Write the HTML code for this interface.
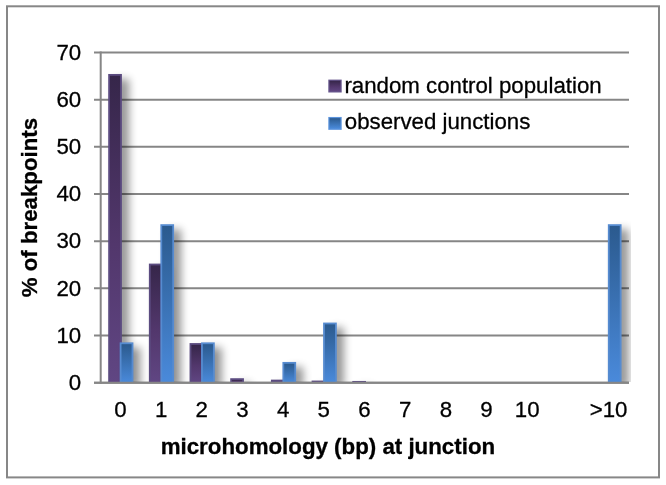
<!DOCTYPE html>
<html><head><meta charset="utf-8"><style>
html,body{margin:0;padding:0;background:#fff;}
body{width:666px;height:485px;overflow:hidden;}
svg{display:block;will-change:transform;}
text{font-family:"Liberation Sans",sans-serif;fill:#000;stroke:#000;stroke-width:0.3px;}
</style></head><body>
<svg width="666" height="485" viewBox="0 0 666 485">
<defs>
<linearGradient id="gp" x1="0" y1="0" x2="0" y2="1">
<stop offset="0" stop-color="#36264a"/><stop offset="0.55" stop-color="#52376c"/><stop offset="1" stop-color="#604683"/>
</linearGradient>
<linearGradient id="gb" x1="0" y1="0" x2="0" y2="1">
<stop offset="0" stop-color="#2b5a8e"/><stop offset="1" stop-color="#4a8adb"/>
</linearGradient>
<filter id="sh" x="-50%" y="-50%" width="250%" height="200%">
<feGaussianBlur in="SourceAlpha" stdDeviation="4"/>
<feOffset dx="7" dy="5" result="b"/>
<feComponentTransfer><feFuncA type="linear" slope="0.42"/></feComponentTransfer>
</filter>
<clipPath id="pc"><rect x="101" y="40" width="530" height="342"/></clipPath>
</defs>
<rect x="0" y="0" width="666" height="485" fill="#fff"/>
<rect x="7" y="6.3" width="652" height="471.1" fill="none" stroke="#878787" stroke-width="2"/>

<line x1="94" y1="382.70" x2="629" y2="382.70" stroke="#868686" stroke-width="2"/>
<text x="81.2" y="390.00" font-size="22.25" text-anchor="end">0</text>
<line x1="94" y1="335.53" x2="629" y2="335.53" stroke="#868686" stroke-width="2"/>
<text x="81.2" y="342.83" font-size="22.25" text-anchor="end">10</text>
<line x1="94" y1="288.36" x2="629" y2="288.36" stroke="#868686" stroke-width="2"/>
<text x="81.2" y="295.66" font-size="22.25" text-anchor="end">20</text>
<line x1="94" y1="241.19" x2="629" y2="241.19" stroke="#868686" stroke-width="2"/>
<text x="81.2" y="248.49" font-size="22.25" text-anchor="end">30</text>
<line x1="94" y1="194.02" x2="629" y2="194.02" stroke="#868686" stroke-width="2"/>
<text x="81.2" y="201.32" font-size="22.25" text-anchor="end">40</text>
<line x1="94" y1="146.85" x2="629" y2="146.85" stroke="#868686" stroke-width="2"/>
<text x="81.2" y="154.15" font-size="22.25" text-anchor="end">50</text>
<line x1="94" y1="99.68" x2="629" y2="99.68" stroke="#868686" stroke-width="2"/>
<text x="81.2" y="106.98" font-size="22.25" text-anchor="end">60</text>
<line x1="94" y1="52.51" x2="629" y2="52.51" stroke="#868686" stroke-width="2"/>
<text x="81.2" y="59.81" font-size="22.25" text-anchor="end">70</text>
<line x1="100.7" y1="51.5" x2="100.7" y2="383.70" stroke="#868686" stroke-width="2"/>
<g clip-path="url(#pc)"><g filter="url(#sh)"><rect x="108.20" y="73.98" width="13.7" height="308.72"/><rect x="148.88" y="263.60" width="13.7" height="119.10"/><rect x="189.56" y="343.08" width="13.7" height="39.62"/><rect x="230.24" y="378.23" width="13.7" height="4.47"/><rect x="270.92" y="379.64" width="13.7" height="3.06"/><rect x="311.60" y="380.58" width="13.7" height="2.12"/><rect x="352.28" y="380.96" width="13.7" height="1.74"/></g></g>
<rect x="108.20" y="73.98" width="13.7" height="308.72" fill="#5b4b80"/><rect x="110.00" y="75.78" width="10.10" height="306.92" fill="url(#gp)"/><rect x="148.88" y="263.60" width="13.7" height="119.10" fill="#5b4b80"/><rect x="150.68" y="265.40" width="10.10" height="117.30" fill="url(#gp)"/><rect x="189.56" y="343.08" width="13.7" height="39.62" fill="#5b4b80"/><rect x="191.36" y="344.88" width="10.10" height="37.82" fill="url(#gp)"/><rect x="230.24" y="378.23" width="13.7" height="4.47" fill="#5b4b80"/><rect x="232.04" y="380.03" width="10.10" height="2.67" fill="url(#gp)"/><rect x="270.92" y="379.64" width="13.7" height="3.06" fill="#5b4b80"/><rect x="311.60" y="380.58" width="13.7" height="2.12" fill="#5b4b80"/><rect x="352.28" y="380.96" width="13.7" height="1.74" fill="#5b4b80"/>
<g clip-path="url(#pc)"><g filter="url(#sh)"><rect x="119.70" y="342.38" width="13.7" height="40.32"/><rect x="160.38" y="224.22" width="13.7" height="158.48"/><rect x="201.06" y="342.38" width="13.7" height="40.32"/><rect x="282.42" y="361.95" width="13.7" height="20.75"/><rect x="323.10" y="322.57" width="13.7" height="60.13"/><rect x="607.86" y="224.22" width="13.7" height="158.48"/></g></g>
<rect x="119.70" y="342.38" width="13.7" height="40.32" fill="#568bd0"/><rect x="121.50" y="344.18" width="10.10" height="38.52" fill="url(#gb)"/><rect x="160.38" y="224.22" width="13.7" height="158.48" fill="#568bd0"/><rect x="162.18" y="226.02" width="10.10" height="156.68" fill="url(#gb)"/><rect x="201.06" y="342.38" width="13.7" height="40.32" fill="#568bd0"/><rect x="202.86" y="344.18" width="10.10" height="38.52" fill="url(#gb)"/><rect x="282.42" y="361.95" width="13.7" height="20.75" fill="#568bd0"/><rect x="284.22" y="363.75" width="10.10" height="18.95" fill="url(#gb)"/><rect x="323.10" y="322.57" width="13.7" height="60.13" fill="#568bd0"/><rect x="324.90" y="324.37" width="10.10" height="58.33" fill="url(#gb)"/><rect x="607.86" y="224.22" width="13.7" height="158.48" fill="#568bd0"/><rect x="609.66" y="226.02" width="10.10" height="156.68" fill="url(#gb)"/>
<line x1="94" y1="382.70" x2="629" y2="382.70" stroke="#868686" stroke-width="2"/>
<text x="120.40" y="416.6" font-size="22.25" text-anchor="middle">0</text>
<text x="161.08" y="416.6" font-size="22.25" text-anchor="middle">1</text>
<text x="201.76" y="416.6" font-size="22.25" text-anchor="middle">2</text>
<text x="242.44" y="416.6" font-size="22.25" text-anchor="middle">3</text>
<text x="283.12" y="416.6" font-size="22.25" text-anchor="middle">4</text>
<text x="323.80" y="416.6" font-size="22.25" text-anchor="middle">5</text>
<text x="364.48" y="416.6" font-size="22.25" text-anchor="middle">6</text>
<text x="405.16" y="416.6" font-size="22.25" text-anchor="middle">7</text>
<text x="445.84" y="416.6" font-size="22.25" text-anchor="middle">8</text>
<text x="486.52" y="416.6" font-size="22.25" text-anchor="middle">9</text>
<text x="527.20" y="416.6" font-size="22.25" text-anchor="middle">10</text>
<text x="608.56" y="416.6" font-size="22.25" text-anchor="middle">&gt;10</text>
<rect x="328.3" y="79.6" width="13.4" height="12.9" fill="#66568c"/><rect x="329.5" y="80.8" width="11" height="10.5" fill="url(#gp)"/>
<rect x="328.3" y="116.95" width="13.4" height="12.9" fill="#5b93dc"/><rect x="329.5" y="118.15" width="11" height="10.5" fill="url(#gb)"/>
<text x="344.4" y="92.8" font-size="22.25">random control population</text>
<text x="344.8" y="129.3" font-size="22.25">observed junctions</text>
<text x="160.7" y="454.2" font-size="22.3" font-weight="bold">microhomology (bp) at junction</text>
<text transform="translate(37.2,297.2) rotate(-90)" x="0" y="0" font-size="22.25" font-weight="bold">% of breakpoints</text>
</svg></body></html>
